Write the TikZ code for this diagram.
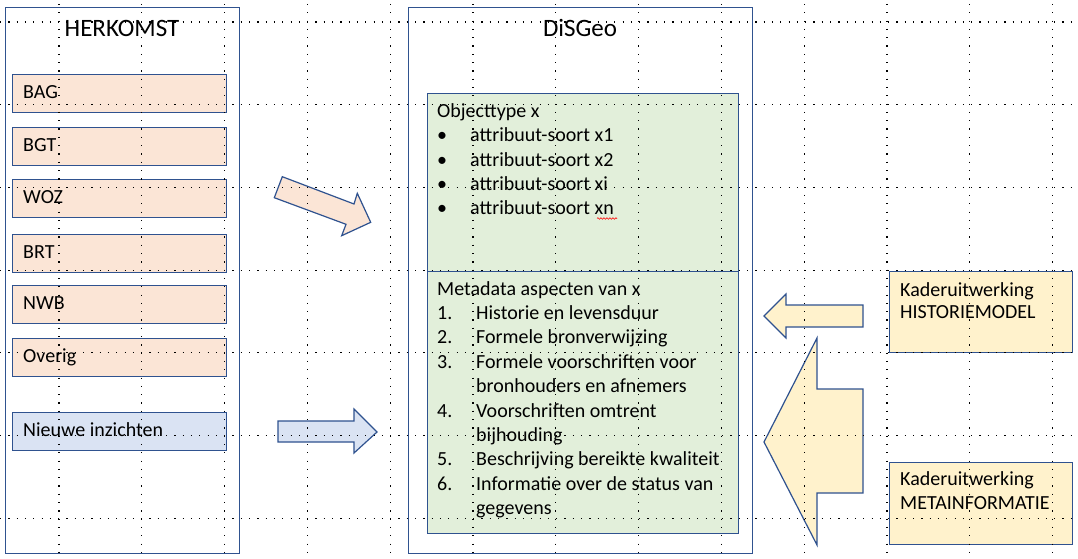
\documentclass[tikz,border=0pt]{standalone}
\usepackage{fontspec}
\setmainfont{Carlito}
\usetikzlibrary{decorations.pathmorphing}
\definecolor{ln}{HTML}{2F528F}
\definecolor{orf}{HTML}{FBE5D6}
\definecolor{blf}{HTML}{DAE3F3}
\definecolor{grf}{HTML}{E2EFDA}
\definecolor{yef}{HTML}{FFF2CC}
\begin{document}
\begin{tikzpicture}[x=1pt,y=-1pt,
  frame/.style={draw=ln, line width=1.2pt, anchor=north west, inner sep=0pt},
  srcbox/.style={frame, fill=orf, minimum width=214pt, minimum height=38pt},
  txt/.style={anchor=base west, inner sep=0pt, font=\fontsize{20}{24}\selectfont},
  ttl/.style={anchor=base, inner sep=0pt, font=\fontsize{25}{30}\selectfont},
  blockarrow/.style={draw=ln, line width=1.2pt, line join=miter},
  gridline/.style={line width=1.2pt, dash pattern=on 1.2pt off 7.1pt}]
\useasboundingbox (0,0) rectangle (1078,559);
\fill[white] (0,0) rectangle (1078,559);

% outer frames
\node[frame, minimum width=234pt, minimum height=546pt] (herk) at (5,7) {};
\node[frame, minimum width=344pt, minimum height=546pt] (disgeo) at (408,7) {};
\node[ttl] (herkt) at (122,36.7) {HERKOMST};
\node[ttl] (disgeot) at (580,36.7) {DiSGeo};

% source boxes
\node[srcbox] (bag) at (12,74) {};
\node[srcbox] (bgt) at (12,127) {};
\node[srcbox] (woz) at (12,179) {};
\node[srcbox] (brt) at (12,234) {};
\node[srcbox] (nwb) at (12,285) {};
\node[srcbox] (ovr) at (12,338) {};
\node[frame, fill=blf, minimum width=214pt, minimum height=38pt] (nieuw) at (12,412) {};
\node[txt] (bagt) at (23,98.5) {BAG};
\node[txt] (bgtt) at (23,151.5) {BGT};
\node[txt] (wozt) at (23,203.5) {WOZ};
\node[txt] (brtt) at (23,258.5) {BRT};
\node[txt] (nwbt) at (23,309.5) {NWB};
\node[txt] (ovrt) at (23,362.5) {Overig};
\node[txt] (nieuwt) at (23,436.5) {Nieuwe inzichten};

% green boxes
\node[frame, fill=grf, minimum width=311pt, minimum height=178pt] (obj) at (427,93) {};
\node[frame, fill=grf, minimum width=311pt, minimum height=262pt] (meta) at (427,271) {};

\node[txt] (o0) at (437,117.3) {Objecttype x};
\foreach \t [count=\i] in {attribuut-soort x1, attribuut-soort x2, attribuut-soort xi, attribuut-soort xn}{
  \node[txt] (ob\i) at (437,{117.3+24.4*\i}) {•};
  \node[txt] (o\i) at (470,{117.3+24.4*\i}) {\t};
}
\draw[red, line width=0.6pt, decorate, decoration={snake, amplitude=0.8pt, segment length=3pt}] (597,218.5) -- (617,218.5);

\node[txt] (m0) at (437,295) {Metadata aspecten van x};
\node[txt] (mn1) at (437,319.4) {1.};
\node[txt] (m1) at (476,319.4) {Historie en levensduur};
\node[txt] (mn2) at (437,343.8) {2.};
\node[txt] (m2) at (476,343.8) {Formele bronverwijzing};
\node[txt] (mn3) at (437,368.2) {3.};
\node[txt] (m3) at (476,368.2) {Formele voorschriften voor};
\node[txt] (m3b) at (476,392.6) {bronhouders en afnemers};
\node[txt] (mn4) at (437,417) {4.};
\node[txt] (m4) at (476,417) {Voorschriften omtrent};
\node[txt] (m4b) at (476,441.4) {bijhouding};
\node[txt] (mn5) at (437,465.8) {5.};
\node[txt] (m5) at (476,465.8) {Beschrijving bereikte kwaliteit};
\node[txt] (mn6) at (437,490.2) {6.};
\node[txt] (m6) at (476,490.2) {Informatie over de status van};
\node[txt] (m6b) at (476,514.6) {gegevens};

% right boxes
\node[frame, fill=yef, minimum width=183pt, minimum height=81pt] (hist) at (889,271) {};
\node[frame, fill=yef, minimum width=183pt, minimum height=82pt] (minf) at (889,462) {};
\node[txt] (h1) at (900,296) {Kaderuitwerking};
\node[txt] (h2) at (900,318.3) {HISTORIEMODEL};
\node[txt] (mi1) at (900,485) {Kaderuitwerking};
\node[txt] (mi2) at (900,509.3) {METAINFORMATIE};

% block arrows
\draw[blockarrow, fill=orf] (282.3,176.7) -- (354,204) -- (357.3,193.3) -- (370.7,222.3)
  -- (341.7,235.7) -- (346,224.3) -- (274.3,197.7) -- cycle;
\draw[blockarrow, fill=blf] (278,421) -- (354,421) -- (354,409) -- (377,432)
  -- (354,453) -- (354,442) -- (278,442) -- cycle;
\draw[blockarrow, fill=yef] (863,305) -- (786,305) -- (786,294) -- (764,316)
  -- (786,338) -- (786,327) -- (863,327) -- cycle;
\draw[blockarrow, fill=yef] (863,389) -- (817,389) -- (817,338) -- (764,442)
  -- (817,545) -- (817,493) -- (863,493) -- cycle;

% dotted grid
\foreach \i in {0,...,12} \draw[gridline] ({59+82.8*\i},4) -- ({59+82.8*\i},559);
\foreach \j in {0,...,6} \draw[gridline] (0,{22+82.7*\j}) -- (1078,{22+82.7*\j});
\end{tikzpicture}
\end{document}
